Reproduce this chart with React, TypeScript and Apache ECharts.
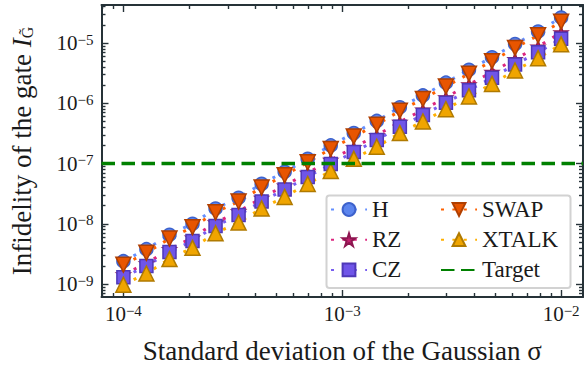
import React, { useEffect, useRef } from 'react';
import * as echarts from 'echarts';

// sigma values (logspace 1e-4 .. 1e-2, 20 points)
const sigma = [
  1.0e-4, 1.274e-4, 1.624e-4, 2.069e-4, 2.637e-4, 3.36e-4, 4.281e-4, 5.456e-4, 6.952e-4, 8.859e-4,
  1.129e-3, 1.438e-3, 1.833e-3, 2.336e-3, 2.976e-3, 3.793e-3, 4.833e-3, 6.158e-3, 7.848e-3, 1.0e-2,
];
const infH = [
  2.4e-9, 3.8e-9, 6.6e-9, 1.0e-8, 1.8e-8, 2.7e-8, 4.6e-8, 7.3e-8, 1.2e-7, 2.0e-7,
  3.2e-7, 5.1e-7, 8.6e-7, 1.35e-6, 2.2e-6, 3.6e-6, 5.8e-6, 9.6e-6, 1.55e-5, 2.65e-5,
];
const infRZ = [
  1.45e-9, 2.2e-9, 3.8e-9, 5.9e-9, 1.05e-8, 1.6e-8, 2.7e-8, 4.3e-8, 7.0e-8, 1.15e-7,
  1.85e-7, 2.95e-7, 4.9e-7, 7.8e-7, 1.25e-6, 2.05e-6, 3.3e-6, 5.4e-6, 8.7e-6, 1.5e-5,
];
const infCZ = [
  1.3e-9, 2.0e-9, 3.4e-9, 5.2e-9, 9.2e-9, 1.4e-8, 2.35e-8, 3.7e-8, 6.0e-8, 9.8e-8,
  1.55e-7, 2.45e-7, 4.1e-7, 6.4e-7, 1.02e-6, 1.65e-6, 2.65e-6, 4.4e-6, 7.0e-6, 1.18e-5,
];
const infSWAP = [
  2.1e-9, 3.3e-9, 5.7e-9, 8.8e-9, 1.55e-8, 2.35e-8, 4.0e-8, 6.4e-8, 1.05e-7, 1.75e-7,
  2.8e-7, 4.4e-7, 7.5e-7, 1.18e-6, 1.9e-6, 3.1e-6, 5.0e-6, 8.3e-6, 1.34e-5, 2.25e-5,
];
const infXTALK = [
  0.98e-9, 1.5e-9, 2.6e-9, 4.0e-9, 7.0e-9, 1.05e-8, 1.8e-8, 2.8e-8, 4.6e-8, 7.5e-8,
  1.2e-7, 1.9e-7, 3.2e-7, 5.0e-7, 8.0e-7, 1.3e-6, 2.1e-6, 3.5e-6, 5.6e-6, 9.5e-6,
];
const targetLevel = 1e-7;

const xRange: [number, number] = [7.943e-5, 1.2589e-2];
const yRange: [number, number] = [6.11e-10, 4.276e-5];
const xMajor = [1e-4, 1e-3, 1e-2];
const yMajor = [1e-9, 1e-8, 1e-7, 1e-6, 1e-5];
const xMinor = [
  8e-5, 9e-5,
  2e-4, 3e-4, 4e-4, 5e-4, 6e-4, 7e-4, 8e-4, 9e-4,
  2e-3, 3e-3, 4e-3, 5e-3, 6e-3, 7e-3, 8e-3, 9e-3,
];
const yMinor = [
  7e-10, 8e-10, 9e-10,
  2e-9, 3e-9, 4e-9, 5e-9, 6e-9, 7e-9, 8e-9, 9e-9,
  2e-8, 3e-8, 4e-8, 5e-8, 6e-8, 7e-8, 8e-8, 9e-8,
  2e-7, 3e-7, 4e-7, 5e-7, 6e-7, 7e-7, 8e-7, 9e-7,
  2e-6, 3e-6, 4e-6, 5e-6, 6e-6, 7e-6, 8e-6, 9e-6,
  2e-5, 3e-5, 4e-5,
];
const legendLeftNames = ['H', 'RZ', 'CZ'];
const legendRightNames = ['SWAP', 'XTALK', 'Target'];

const FONT = 'Liberation Serif';
const AXIS = '#263238';
const TXT = '#1a1a1a';
const STAR =
  'path://M0,-1L0.2245,-0.309L0.9511,-0.309L0.3633,0.118L0.5878,0.809L0,0.382L-0.5878,0.809L-0.3633,0.118L-0.9511,-0.309L-0.2245,-0.309Z';

function tickRich() {
  return {
    b: { fontSize: 21, fontFamily: FONT, color: TXT, lineHeight: 22 },
    s: { fontSize: 15, fontFamily: FONT, color: TXT, lineHeight: 15, verticalAlign: 'top' },
  };
}
function powLabel(v: number) {
  const e = Math.round(Math.log10(v));
  return '{b|10}{s|' + (e < 0 ? '\u2212' + -e : String(e)) + '}';
}

function tickAxis(
  pos: string,
  values: number[],
  length: number,
  range: [number, number],
  withLine: boolean,
  label: any,
  extra: any = {}
) {
  return {
    type: 'log',
    logBase: 10,
    position: pos,
    min: range[0],
    max: range[1],
    axisLine: { show: withLine, onZero: false, lineStyle: { color: AXIS, width: 2 } },
    axisTick: { show: true, inside: true, length, customValues: values, lineStyle: { color: AXIS, width: 1.4 } },
    axisLabel: label,
    splitLine: { show: false },
    minorTick: { show: false },
    minorSplitLine: { show: false },
    ...extra,
  };
}

function lineSeries(name: string, data: number[], line: string, fill: string, edge: string, symbol: string, size: number, rotate = 0) {
  return {
    name,
    type: 'line',
    data: sigma.map((s, i) => [s, data[i]]),
    symbol,
    symbolSize: size,
    symbolRotate: rotate,
    symbolKeepAspect: true,
    showSymbol: true,
    lineStyle: { color: line, width: 3, type: [3, 8.4] },
    itemStyle: { color: fill, borderColor: edge, borderWidth: 1.5 },
    emphasis: { disabled: true },
  };
}

function legendBlock(names: string[], left: number) {
  return {
    data: names.map((n) => (n === 'Target' ? { name: n, itemStyle: { opacity: 0 } } : n)),
    orient: 'vertical',
    left,
    top: 198,
    padding: 0,
    itemWidth: 36,
    itemHeight: 16,
    itemGap: 7.2,
    selectedMode: false,
    textStyle: { fontFamily: FONT, fontSize: 23, color: TXT, lineHeight: 20 },
  };
}

const option: any = {
  animation: false,
  backgroundColor: '#ffffff',
  textStyle: { fontFamily: FONT },
  grid: { left: 101, right: 1, top: 5, bottom: 70 },
  xAxis: [
    tickAxis('bottom', xMajor, 7, xRange, true, {
      show: true,
      customValues: xMajor,
      margin: 6,
      formatter: powLabel,
      rich: tickRich(),
    }, {
      name: 'Standard deviation of the Gaussian \u03c3',
      nameLocation: 'middle',
      nameGap: 40,
      nameTextStyle: { fontFamily: FONT, fontSize: 27, color: TXT },
    }),
    tickAxis('bottom', xMinor, 4, xRange, false, { show: false }),
    tickAxis('top', xMajor, 7, xRange, true, { show: false }),
    tickAxis('top', xMinor, 4, xRange, false, { show: false }),
  ],
  yAxis: [
    tickAxis('left', yMajor, 7, yRange, true, {
      show: true,
      customValues: yMajor,
      margin: 8,
      formatter: powLabel,
      rich: tickRich(),
    }, {
      name: '{n|Infidelity of the gate }{i|I}{g|G\u0303}',
      nameLocation: 'middle',
      nameRotate: 90,
      nameGap: 66,
      nameTextStyle: {
        rich: {
          n: { fontFamily: FONT, fontSize: 27, color: TXT, lineHeight: 28 },
          i: { fontFamily: FONT, fontSize: 27, color: TXT, fontStyle: 'italic', lineHeight: 28 },
          g: { fontFamily: FONT, fontSize: 16, color: TXT, lineHeight: 16, verticalAlign: 'bottom' },
        },
      },
    }),
    tickAxis('left', yMinor, 4, yRange, false, { show: false }),
    tickAxis('right', yMajor, 7, yRange, true, { show: false }),
    tickAxis('right', yMinor, 4, yRange, false, { show: false }),
  ],
  legend: [legendBlock(legendLeftNames, 330), legendBlock(legendRightNames, 440)],
  graphic: [
    {
      type: 'rect',
      z: 3,
      shape: { x: 326.5, y: 195.5, width: 244, height: 92.5, r: 3 },
      style: { fill: '#ffffff', stroke: '#d2d2d2', lineWidth: 2 },
    },
  ],
  series: [
    lineSeries('H', infH, '#648FFF', '#5C85EE', '#3D62CC', 'circle', 13),
    lineSeries('RZ', infRZ, '#DC267F', '#C2206E', '#8E1550', STAR, 13),
    lineSeries('CZ', infCZ, '#785EF0', '#6F55E8', '#4E38B8', 'rect', 13),
    lineSeries('SWAP', infSWAP, '#FE6100', '#E85500', '#B03F00', 'triangle', 15, 180),
    lineSeries('XTALK', infXTALK, '#FFB000', '#F0A500', '#B07A00', 'triangle', 15),
    {
      name: 'Target',
      type: 'line',
      data: [
        [xRange[0], targetLevel],
        [xRange[1], targetLevel],
      ],
      symbol: 'none',
      lineStyle: { color: '#008000', width: 3.5, type: [13.5, 6.5] },
      itemStyle: { color: '#008000' },
      emphasis: { disabled: true },
      z: 5,
    },
  ],
};

export default function App() {
  const ref = useRef<HTMLDivElement>(null);
  useEffect(() => {
    const chart = echarts.init(ref.current!, undefined, { renderer: 'svg', width: 584, height: 369 });
    chart.setOption(option);
    return () => chart.dispose();
  }, []);
  return (
    <div
      ref={ref}
      style={{ position: 'fixed', left: 0, top: 0, width: 584, height: 369, background: '#fff' }}
    />
  );
}
